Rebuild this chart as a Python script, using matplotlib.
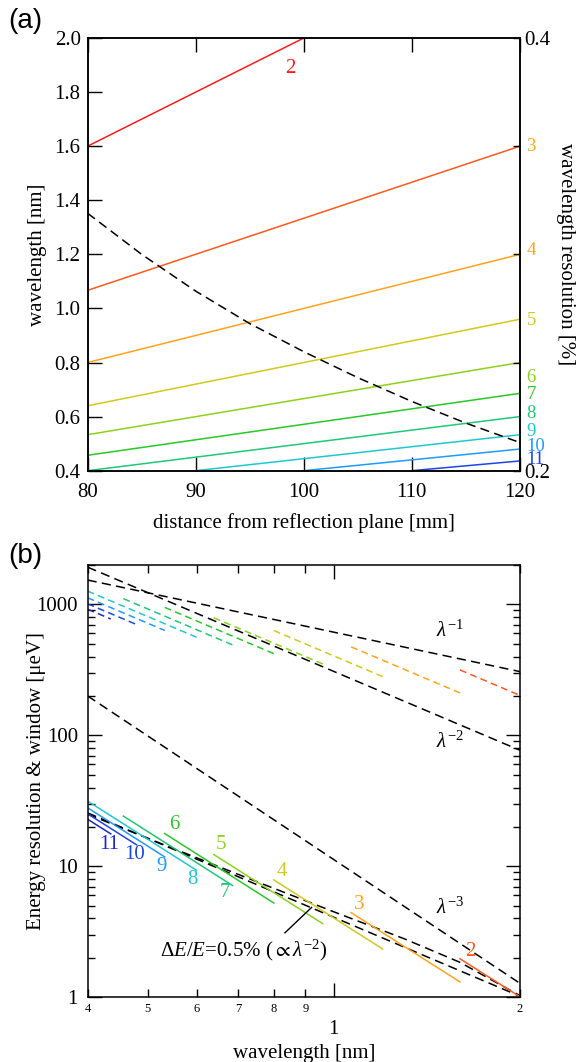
import matplotlib
matplotlib.use("Agg")
import matplotlib.pyplot as plt
import matplotlib.ticker as mticker

plt.rcParams["font.family"] = ["Liberation Serif", "DejaVu Serif"]
plt.rcParams["mathtext.fontset"] = "custom"
plt.rcParams["mathtext.rm"] = "Liberation Serif"
plt.rcParams["mathtext.it"] = "Liberation Serif:italic"
plt.rcParams["mathtext.fallback"] = "stix"

FS = 15

ORDERS = [2, 3, 4, 5, 6, 7, 8, 9, 10, 11]

# (a) visible ends of each order line: distance [mm] -> wavelength [nm]
dist_start = [80, 80, 80, 80, 80, 80, 80, 90, 100, 110]
dist_end = [100, 120, 120, 120, 120, 120, 120, 120, 120, 120]
wl_start = [1.6, 1.067, 0.8, 0.64, 0.533, 0.457, 0.4, 0.4, 0.4, 0.4]
wl_end = [2.0, 1.6, 1.2, 0.96, 0.8, 0.686, 0.6, 0.533, 0.48, 0.436]

# (a) wavelength resolution [%] (right axis)
res_dist = [80, 85, 90, 95, 100, 105, 110, 115, 120]
res_pct = [0.319, 0.300, 0.283, 0.268, 0.255, 0.243, 0.232, 0.222, 0.213]

# (b) per order: wavelength range, energy resolution and window [ueV]
lam_start = [1.6, 1.067, 0.8, 0.64, 0.533, 0.457, 0.4, 0.4, 0.4, 0.4]
lam_end = [2.0, 1.6, 1.2, 0.96, 0.8, 0.686, 0.6, 0.533, 0.48, 0.436]
dE_start = [1.97, 4.43, 7.88, 12.3, 17.8, 24.2, 31.5, 28.0, 25.2, 22.9]
dE_end = [1.01, 1.31, 2.34, 3.65, 5.25, 7.14, 9.34, 11.8, 14.6, 17.7]
win_start = [316, 474, 632, 790, 949, 1107, 1264, 1124, 1011, 919]
win_end = [202, 211, 281, 351, 421, 491, 562, 633, 702, 774]

# (b) guide lines
guide_lam = [0.4, 2.0]
guide_inv1 = [1535, 307]
guide_inv2 = [1925, 77]
guide_inv3 = [200, 1.28]
guide_de05 = [25.6, 1.02]
calc_lam = [0.4, 0.7, 1.0, 1.3, 1.6, 2.0]
calc_de = [25.0, 8.7, 4.5, 2.8, 1.85, 1.03]

top_colors = ["#ff1a1a", "#ff5a1e", "#ffa31a", "#d2c81e", "#8cd21e",
              "#28c828", "#1ec878", "#1ec8d2", "#1e9bff", "#1e46e6"]
top_label_colors = ["#ff1a1a", "#ffa31a", "#ffa31a", "#d2c81e", "#8cd21e",
                    "#28c828", "#1ec878", "#1ec8d2", "#1e9bff", "#1e46e6"]
bot_colors = ["#ff5a1e", "#ffa31a", "#d2c81e", "#8cd21e", "#28c828",
              "#1ec878", "#1ec8d2", "#1e9bff", "#1e46e6", "#1e28c8"]

fig = plt.figure(figsize=(5.88, 10.62), dpi=100)

# ---------------- (a) ----------------
ax = fig.add_axes([0.149, 0.5568, 0.7352, 0.4074])
for i, n in enumerate(ORDERS):
    ax.plot([dist_start[i], dist_end[i]], [wl_start[i], wl_end[i]],
            color=top_colors[i], lw=1.1)
ax.set_xlim(80, 120)
ax.set_ylim(0.4, 2.0)
ax.set_xticks([80, 90, 100, 110, 120])
ax.set_yticks([0.4, 0.6, 0.8, 1.0, 1.2, 1.4, 1.6, 1.8, 2.0])
ax.yaxis.set_major_formatter(mticker.FormatStrFormatter("%.1f"))
ax.tick_params(direction="in", length=10, width=1, top=True, labelsize=FS)
ax.tick_params(axis="x", pad=9)
ax.tick_params(axis="y", pad=5)
ax.set_xlabel("distance from reflection plane [mm]", fontsize=FS, labelpad=8)
ax.set_ylabel("wavelength [nm]", fontsize=FS)
ax.yaxis.set_label_coords(-0.095, 0.5)

axr = ax.twinx()
axr.plot(res_dist, res_pct, color="k", lw=1.1, dashes=(6, 3.5))
axr.set_ylim(0.2, 0.4)
axr.set_yticks([0.2, 0.25, 0.3, 0.35, 0.4])
axr.set_yticklabels(["0.2", "", "", "", "0.4"])
axr.tick_params(direction="in", length=5, width=1, labelsize=FS, pad=3)
axr.set_ylabel("wavelength resolution [%]", fontsize=FS, rotation=-90,
               labelpad=18)

ax.text(98.8, 1.889, "2", color=top_label_colors[0], fontsize=FS,
        ha="center", va="center")
# order labels along the right edge (the lowest ones crowd the "0.2" label,
# as in the original figure)
right_label_y = [None, 1.6, 1.215, 0.957, 0.746, 0.68, 0.613, 0.545, 0.488, 0.44]
for i, n in enumerate(ORDERS):
    if right_label_y[i] is None:
        continue
    ax.text(120.6, right_label_y[i], str(n), color=top_label_colors[i],
            fontsize=13.5, ha="left", va="center", clip_on=False)

# ---------------- (b) ----------------
bx = fig.add_axes([0.149, 0.0609, 0.7352, 0.4071])
bx.set_xscale("log")
bx.set_yscale("log")

bx.plot(guide_lam, guide_inv1, color="k", lw=1.1, dashes=(6, 3.5))
bx.plot(guide_lam, guide_inv2, color="k", lw=1.1, dashes=(6, 3.5))
bx.plot(guide_lam, guide_inv3, color="k", lw=1.1, dashes=(6, 3.5))
bx.plot(guide_lam, guide_de05, color="k", lw=1.1, dashes=(6, 3.5))
bx.plot(calc_lam, calc_de, color="k", lw=1.1, dashes=(6, 3.5))

for i, n in enumerate(ORDERS):
    bx.plot([lam_start[i], lam_end[i]], [dE_start[i], dE_end[i]],
            color=bot_colors[i], lw=1.1)
    bx.plot([lam_start[i], lam_end[i]], [win_start[i], win_end[i]],
            color=bot_colors[i], lw=1.1, dashes=(4.5, 2.8))

bx.set_xlim(0.4, 2.0)
bx.set_ylim(1, 2000)

bx.xaxis.set_major_locator(mticker.FixedLocator([1.0]))
bx.xaxis.set_major_formatter(mticker.FixedFormatter(["1"]))
bx.xaxis.set_minor_locator(mticker.FixedLocator([0.4, 0.5, 0.6, 0.7, 0.8, 0.9, 2.0]))
bx.xaxis.set_minor_formatter(mticker.FixedFormatter(["4", "5", "6", "7", "8", "9", "2"]))
bx.yaxis.set_major_locator(mticker.LogLocator(base=10, numticks=10))
bx.yaxis.set_minor_locator(mticker.LogLocator(base=10, subs=range(2, 10), numticks=10))
bx.yaxis.set_major_formatter(mticker.FuncFormatter(lambda v, _: f"{v:g}"))
bx.yaxis.set_minor_formatter(mticker.NullFormatter())

bx.tick_params(which="both", direction="in", top=True, right=True, width=1)
bx.tick_params(which="major", length=10)
bx.tick_params(which="minor", length=5)
bx.tick_params(axis="x", which="major", labelsize=FS, pad=16)
bx.tick_params(axis="x", which="minor", labelsize=9, pad=4, length=6)
bx.tick_params(axis="y", which="major", labelsize=FS, pad=7)
bx.set_xlabel("wavelength [nm]", fontsize=FS, labelpad=4)
bx.set_ylabel("Energy resolution & window [\u03bceV]", fontsize=FS)
bx.yaxis.set_label_coords(-0.097, 0.5)

bot_label_pos = [(1.66, 2.24), (1.10, 5.1), (0.824, 9.2), (0.658, 14.7),
                 (0.553, 20.9), (0.667, 6.3), (0.592, 7.9), (0.527, 10.0),
                 (0.477, 12.3), (0.434, 14.7)]
for i, n in enumerate(ORDERS):
    lx, ly = bot_label_pos[i]
    bx.text(lx, ly, str(n), color=bot_colors[i], fontsize=FS,
            ha="center", va="center")

bx.text(1.54, 619, r"$\lambda^{-1}$", fontsize=FS, ha="center", va="center")
bx.text(1.54, 89, r"$\lambda^{-2}$", fontsize=FS, ha="center", va="center")
bx.text(1.54, 4.75, r"$\lambda^{-3}$", fontsize=FS, ha="center", va="center")
bx.text(0.716, 2.07, r"$\Delta E/E$=0.5% ($\propto\lambda^{-2}$)", fontsize=FS,
        ha="center", va="baseline")
bx.plot([0.834, 0.921], [3.11, 4.86], color="k", lw=1)

for a in (ax, axr, bx):
    for s in a.spines.values():
        s.set_linewidth(1.1)

fig.text(25 / 588, 1 - 21 / 1062, "(a)", family="Liberation Sans", fontsize=20,
         ha="center", va="center")
fig.text(25 / 588, 1 - 556 / 1062, "(b)", family="Liberation Sans", fontsize=20,
         ha="center", va="center")

fig.savefig("out.png", dpi=100)
